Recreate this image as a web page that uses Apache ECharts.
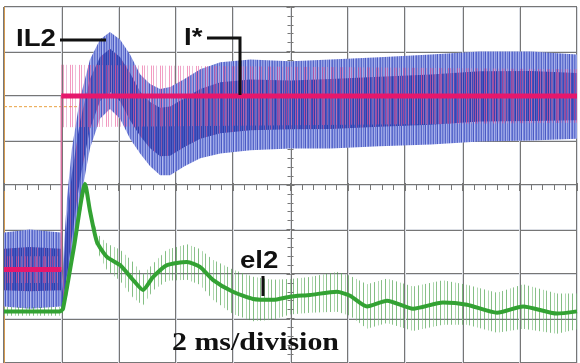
<!DOCTYPE html>
<html>
<head>
<meta charset="utf-8">
<script src="https://cdn.jsdelivr.net/npm/echarts@6/dist/echarts.min.js"></script>
<style>
  html, body { margin: 0; padding: 0; background: #fff; }
  #chart { width: 580px; height: 363px; }
</style>
</head>
<body>
<div id="chart"></div>
<script>
// time in ms (2 ms / division), amplitude in divisions
var blueTime = [0, 0.9, 1.98, 2.04, 2.09, 2.2, 2.37, 2.65, 3.0, 3.35, 3.7, 4.05, 4.4, 4.75, 5.1, 5.45, 5.8, 6.3, 6.85, 7.55, 8.6, 10, 11.4, 13.1, 14.9, 16.6, 18.4, 20]
var blueHigh = [2.93, 3.0, 2.93, 1.71, 2.6, 3.71, 4.82, 5.93, 6.82, 7.27, 7.44, 7.27, 6.93, 6.49, 6.27, 6.16, 6.2, 6.38, 6.6, 6.76, 6.82, 6.78, 6.82, 6.87, 6.93, 7.0, 7.0, 6.93]
var blueLow = [1.27, 1.22, 1.27, 1.16, 1.22, 1.49, 2.27, 3.6, 4.82, 5.49, 5.71, 5.49, 5.04, 4.71, 4.42, 4.22, 4.22, 4.42, 4.6, 4.71, 4.78, 4.82, 4.82, 4.87, 4.91, 4.98, 5.0, 5.04]

var pinkTime = [0, 2.0, 2.0, 20]
var pinkLevel = [2.1, 2.1, 6.0, 6.0]
var pinkSpread = [0.3, 0.3, 0.7, 0.6]

var greenTime = [0, 1.95, 2.06, 2.44, 2.83, 3.0, 3.25, 3.6, 4.05, 4.5, 4.85, 5.2, 5.69, 6.39, 6.84, 7.29, 7.99, 8.69, 9.39, 9.98, 10.68, 11.62, 12.08, 12.67, 13.37, 14.28, 15.32, 16.16, 17.21, 18.12, 19.3, 20]
var greenValue = [1.16, 1.16, 1.22, 2.6, 4.02, 3.42, 2.71, 2.38, 2.2, 1.87, 1.64, 1.93, 2.2, 2.27, 2.16, 1.87, 1.6, 1.44, 1.42, 1.49, 1.53, 1.6, 1.51, 1.27, 1.4, 1.22, 1.36, 1.31, 1.13, 1.27, 1.11, 1.16]
var greenSpread = [0.1, 0.1, 0.1, 0.1, 0.1, 0.1, 0.2, 0.3, 0.35, 0.4, 0.35, 0.3, 0.35, 0.4, 0.4, 0.45, 0.5, 0.5, 0.45, 0.4, 0.4, 0.45, 0.45, 0.5, 0.5, 0.5, 0.5, 0.45, 0.45, 0.5, 0.45, 0.4]

var refTime = [0, 20]
var refLevel = [5.76, 5.76]

var chart = echarts.init(document.getElementById('chart'))

// vertical streak textures for the noisy traces
function stripes (cols) {
  var c = document.createElement('canvas')
  c.width = cols.length
  c.height = 1
  var ctx = c.getContext('2d')
  cols.forEach(function (col, i) {
    if (col) { ctx.fillStyle = col; ctx.fillRect(i, 0, 1, 1) }
  })
  return { image: c, repeat: 'repeat' }
}
var blueOuter = stripes(['#8f9be2', '#5565c8', '#a7b0ea', '#6c7bd4', '#93a0e4', '#4a5ac4', '#b2baee', '#7886da', '#5868cc', '#9ca7e6', '#6474d0', '#8592de'])
var blueCore = stripes(['#3545b5', '#4858c0', '#2e3eab', '#5262c6', '#3a4ab8', '#8a5aa8', '#3444b2', '#4e5ec4', '#2f3faa', '#6a6ac4', '#3b4bb8', '#9a5aa8', '#4252bc'])
var pinkNoise = stripes(['rgba(230,100,160,0.6)', null, null, 'rgba(220,130,180,0.5)', null, null, null, 'rgba(235,70,140,0.55)', null])
var greenNoise = stripes(['rgba(90,170,90,0.75)', null, null, null, 'rgba(120,190,120,0.6)', null, null, 'rgba(60,150,60,0.6)', null, null, null])

function band (name, times, hi, lo, fill, z) {
  return {
    type: 'custom',
    name: name,
    z: z,
    silent: true,
    data: [[0, 0]],
    renderItem: function (params, api) {
      var pts = []
      for (var i = 0; i < times.length; i++) pts.push(api.coord([times[i], hi[i]]))
      for (var j = times.length - 1; j >= 0; j--) pts.push(api.coord([times[j], lo[j]]))
      return { type: 'polygon', shape: { points: pts }, style: { fill: fill } }
    }
  }
}

function zip (a, b) { return a.map(function (v, i) { return [v, b[i]] }) }

// thick I* segments, broken at the step so the edge itself stays thin
var pinkThick = []
pinkTime.forEach(function (t, i) {
  if (i > 0 && t === pinkTime[i - 1]) pinkThick.push([t, '-'])
  pinkThick.push([t, pinkLevel[i]])
})

var blueCoreHigh = blueHigh.map(function (h, i) { return h - 0.22 * (h - blueLow[i]) })
var blueCoreLow = blueLow.map(function (l, i) { return l + 0.22 * (blueHigh[i] - l) })
var pinkHigh = pinkLevel.map(function (v, i) { return v + pinkSpread[i] })
var pinkLow = pinkLevel.map(function (v, i) { return v - pinkSpread[i] })
var greenHigh = greenValue.map(function (v, i) { return v + greenSpread[i] })
var greenLow = greenValue.map(function (v, i) { return v - greenSpread[i] })

var gridLine = { show: true, lineStyle: { color: '#767676', width: 2 } }
var centerTick = { show: true, length: 4, lineStyle: { color: '#777', width: 1 } }
var centerMinor = { show: true, splitNumber: 5, length: 3, lineStyle: { color: '#777', width: 1 } }

var labelFont = { fontFamily: 'Liberation Sans', fontWeight: 'bold', fontSize: 24, fill: '#111' }

chart.setOption({
  animation: false,
  backgroundColor: '#fff',
  grid: { left: 4, top: 7, width: 573, height: 360 },
  xAxis: [
    { type: 'value', min: 0, max: 20, interval: 2, axisLabel: { show: false }, axisTick: { show: false }, axisLine: { show: false }, splitLine: gridLine },
    { type: 'value', min: 0, max: 20, interval: 2, position: 'bottom', offset: -180, axisLabel: { show: false }, axisLine: { show: false }, axisTick: centerTick, minorTick: centerMinor },
    { type: 'value', min: 0, max: 20, interval: 2, position: 'top', offset: -180, axisLabel: { show: false }, axisLine: { show: false }, axisTick: centerTick, minorTick: centerMinor }
  ],
  yAxis: [
    { type: 'value', min: 0, max: 8, interval: 1, axisLabel: { show: false }, axisTick: { show: false }, axisLine: { show: true, lineStyle: { color: '#d49a50', width: 1 } }, splitLine: gridLine },
    { type: 'value', min: 0, max: 8, interval: 1, position: 'left', offset: -286.5, axisLabel: { show: false }, axisLine: { show: false }, axisTick: centerTick, minorTick: centerMinor },
    { type: 'value', min: 0, max: 8, interval: 1, position: 'right', offset: -286.5, axisLabel: { show: false }, axisLine: { show: false }, axisTick: centerTick, minorTick: centerMinor }
  ],
  series: [
    { type: 'line', name: 'ref', data: zip(refTime, refLevel), symbol: 'none', silent: true, z: 1, lineStyle: { color: '#e8a040', width: 1, type: [3, 2] } },
    band('IL2', blueTime, blueHigh, blueLow, blueOuter, 2),
    band('IL2 core', blueTime, blueCoreHigh, blueCoreLow, blueCore, 3),
    band('I* noise', pinkTime, pinkHigh, pinkLow, pinkNoise, 4),
    { type: 'line', name: 'I* edge', data: zip(pinkTime, pinkLevel), symbol: 'none', silent: true, z: 5, lineStyle: { color: '#d8709f', width: 1.5 } },
    { type: 'line', name: 'I*', data: pinkThick, connectNulls: false, symbol: 'none', silent: true, z: 5, lineStyle: { color: '#e6176c', width: 5 } },
    band('el2 noise', greenTime, greenHigh, greenLow, greenNoise, 6),
    { type: 'line', name: 'el2', data: zip(greenTime, greenValue), symbol: 'none', smooth: 0.2, silent: true, z: 7, lineStyle: { color: '#33a233', width: 4 } }
  ],
  graphic: [
    { type: 'text', x: 16, y: 27, scaleX: 1.15, z: 100, style: Object.assign({ text: 'IL2' }, labelFont) },
    { type: 'polyline', z: 100, shape: { points: [[60, 40], [106, 40]] }, style: { stroke: '#111', lineWidth: 3 } },
    { type: 'text', x: 184, y: 26, scaleX: 1.15, z: 100, style: Object.assign({ text: 'I*' }, labelFont) },
    { type: 'polyline', z: 100, shape: { points: [[207, 38], [240, 38], [240, 95]] }, style: { stroke: '#111', lineWidth: 3, fill: null } },
    { type: 'text', x: 240, y: 249, scaleX: 1.15, z: 100, style: Object.assign({ text: 'el2' }, labelFont) },
    { type: 'polyline', z: 100, shape: { points: [[263, 276], [263, 296]] }, style: { stroke: '#111', lineWidth: 3 } },
    { type: 'text', x: 172, y: 330, scaleX: 1.15, z: 100, style: { text: '2 ms/division', fontFamily: 'Liberation Serif', fontWeight: 'bold', fontSize: 26, fill: '#111' } }
  ]
})
</script>
</body>
</html>
